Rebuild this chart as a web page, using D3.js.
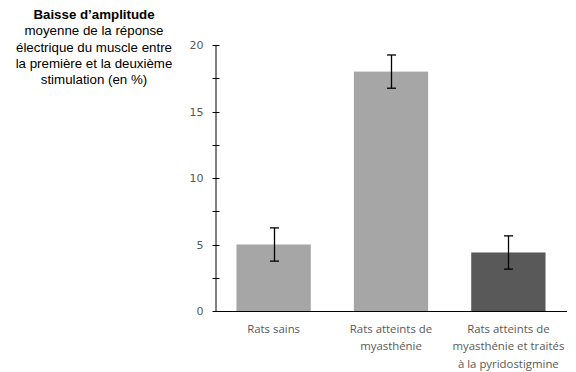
<!DOCTYPE html>
<html><head><meta charset="utf-8">
<script src="https://cdn.jsdelivr.net/npm/d3@7"></script>
<style>body{margin:0;background:#fff}svg{display:block}</style>
</head><body>
<svg id="chart" width="576" height="372"></svg>
<script>
const categories = [
  ["Rats sains"],
  ["Rats atteints de", "myasthénie"],
  ["Rats atteints de", "myasthénie et traités", "à la pyridostigmine"]
];
const values = [5.0, 18.0, 4.4];
const errors = [1.25, 1.25, 1.25];
const barColors = ["#A6A6A6", "#A6A6A6", "#595959"];
const majorTicks = [0, 5, 10, 15, 20];
const minorTicks = [2.5, 7.5, 12.5, 17.5];
const titleLines = ["Baisse d’amplitude", "moyenne de la réponse", "électrique du muscle entre", "la première et la deuxième", "stimulation (en %)"];

(function () {
const svg = d3.select("#chart");
const mLeft = 215, mRight = 567, mTop = 45, mBottom = 311;

const x = d3.scaleBand().domain(d3.range(values.length)).range([mLeft, mRight]).paddingInner(0.367).paddingOuter(0.183);
const y = d3.scaleLinear().domain([0, 20]).range([mBottom, mTop]);

// bars
svg.selectAll("rect.bar").data(values).join("rect")
  .attr("x", (d, i) => x(i)).attr("width", x.bandwidth())
  .attr("y", d => y(d)).attr("height", d => y(0) - y(d))
  .attr("fill", (d, i) => barColors[i]);

// error bars
const eb = svg.append("g").attr("stroke", "#000").attr("stroke-width", 1.3).attr("fill", "none");
values.forEach((v, i) => {
  const cx = Math.round(x(i) + x.bandwidth() / 2) + 0.5;
  const y1 = y(v + errors[i]), y2 = y(v - errors[i]);
  eb.append("line").attr("x1", cx).attr("x2", cx).attr("y1", y1).attr("y2", y2);
  eb.append("line").attr("x1", cx - 4.5).attr("x2", cx + 4.5).attr("y1", y1).attr("y2", y1);
  eb.append("line").attr("x1", cx - 4.5).attr("x2", cx + 4.5).attr("y1", y2).attr("y2", y2);
});

// y axis
const yAxis = d3.axisLeft(y).tickValues(majorTicks).tickSizeInner(0).tickSizeOuter(0).tickPadding(12);
const gy = svg.append("g").attr("transform", `translate(${mLeft + 0.5},0)`).call(yAxis);
gy.select(".domain").attr("stroke", "#000");
gy.selectAll("text").attr("font-family", "DejaVu Sans, Verdana, sans-serif").attr("font-size", 11).attr("fill", "#595959");
const allTicks = majorTicks.concat(minorTicks);
gy.selectAll("line.cross").data(allTicks).join("line").attr("class", "cross")
  .attr("x1", -3).attr("x2", 4)
  .attr("y1", d => Math.round(y(d)) + 0.5).attr("y2", d => Math.round(y(d)) + 0.5)
  .attr("stroke", "#000");

// x axis
const xAxis = d3.axisBottom(x).tickSize(0).tickFormat("");
const gx = svg.append("g").attr("transform", `translate(0,${mBottom + 0.5})`).call(xAxis);
gx.select(".domain").attr("stroke", "#000").attr("d", `M${mLeft},0H${mRight}`);

// category labels
categories.forEach((lines, i) => {
  const t = svg.append("text").attr("text-anchor", "middle")
    .attr("font-family", "Open Sans, sans-serif").attr("font-size", 11.4).attr("fill", "#595959");
  lines.forEach((ln, j) => {
    t.append("tspan").attr("x", x(i) + x.bandwidth() / 2).attr("y", 333 + j * 17.4).text(ln);
  });
});

// title
const tt = svg.append("text").attr("text-anchor", "middle")
  .attr("font-family", "Liberation Sans, Arial, sans-serif").attr("font-size", 13.3).attr("fill", "#000");
titleLines.forEach((ln, j) => {
  tt.append("tspan").attr("x", 94).attr("y", 19 + j * 16.3)
    .attr("font-weight", j === 0 ? "bold" : "normal").text(ln);
});
})();
</script>
</body></html>
